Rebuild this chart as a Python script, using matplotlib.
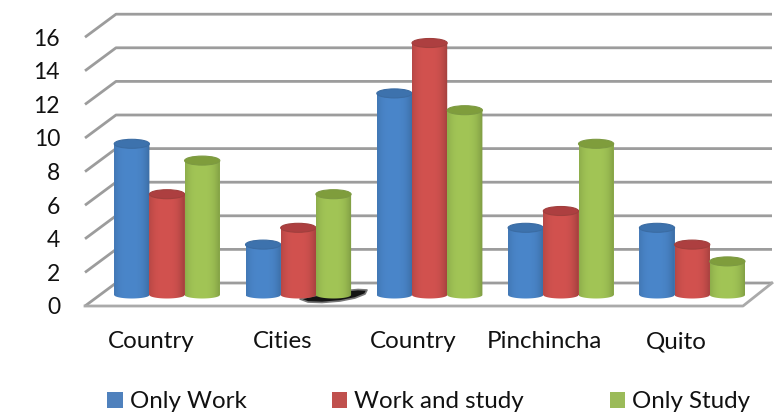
import numpy as np
import matplotlib
matplotlib.use("Agg")
import matplotlib.pyplot as plt
from matplotlib.patches import Ellipse, Polygon, Patch

categories = ["Country", "Cities", "Country", "Pinchincha", "Quito"]
only_work = [9, 3, 12, 4, 4]
work_and_study = [6, 4, 15, 5, 3]
only_study = [8, 6, 11, 9, 2]
y_ticks = [0, 2, 4, 6, 8, 10, 12, 14, 16]

W, H = 782, 412
plt.rcParams["font.family"] = ["Lato", "DejaVu Sans"]
fig = plt.figure(figsize=(W / 100, H / 100), dpi=100)
L, R, T, B = 85, 772, 14, 306
ax = fig.add_axes([L / W, 1 - B / H, (R - L) / W, (B - T) / H])
ax.set_facecolor("none")
UX, UY = 131.3, 16.8          # pixels per category / per value
X0, Y0 = 167, 295             # pixel of first group centre / of value 0 in the bar plane
ax.set_xlim((L - X0) / UX, (R - X0) / UX)
ax.set_ylim((Y0 - B) / UY, (Y0 - T) / UY)
for s in ax.spines.values():
    s.set_visible(False)

px = lambda x: (x - X0) / UX
py = lambda y: (Y0 - y) / UY
front = py(306)               # front plane offset in value units
back = py(283)                # back plane offset in value units
GRID = "#9c9c9c"

# walls / floor lines
for v in y_ticks:
    xs = [px(85), px(116), px(772)]
    ys = [front + v, back + v, back + v]
    ax.plot(xs, ys, color=GRID, lw=2.0, solid_capstyle="butt", zorder=1, clip_on=False)
ax.plot([px(85), px(743), px(772)], [front, front, back], color="#aaaaaa", lw=2.0, zorder=1, clip_on=False)

# shadow under the Cities group
sx = np.array([300, 310, 325, 342, 358, 367, 365, 355, 340, 322, 308])
sy = np.array([299, 296.5, 294, 291, 289.5, 290, 294, 298, 301, 302.5, 302])
ax.add_patch(Polygon(np.c_[px(sx), py(sy)], closed=True, fc="#141414", ec="#777777", lw=1.2,
                     joinstyle="round", zorder=2))

series = [
    ("Only Work", only_work, "#4F81BD", "#4a86ca", "#3b6ca3", "#3d72ad"),
    ("Work and study", work_and_study, "#C0504D", "#d2524f", "#a03f3d", "#ad3f40"),
    ("Only Study", only_study, "#9BBB59", "#a2c556", "#7d9a42", "#7f9d3c"),
]
bw = 35.2 / UX
rx = bw / 2
top_h = 9 / UY
bot_h = 7 / UY
for k, (name, vals, base, mid, edge, top) in enumerate(series):
    xs = np.arange(len(categories)) + (k - 1) * bw
    bars = ax.bar(xs, vals, width=bw, color=base, linewidth=0, zorder=3 + k, label=name)
    c_mid = np.array(matplotlib.colors.to_rgb(mid))
    c_edge = np.array(matplotlib.colors.to_rgb(edge))
    t = np.linspace(-1, 1, 48)
    w = np.clip(np.abs((t + 0.1) / 1.1), 0, 1) ** 3
    grad = (c_mid[None, :] * (1 - w[:, None]) + c_edge[None, :] * w[:, None])[None, :, :]
    for x, v, b in zip(xs, vals, bars):
        a = np.linspace(np.pi, 2 * np.pi, 30)
        body = np.r_[np.c_[x + rx * np.cos(a), bot_h / 2 * np.sin(a)], [[x + rx, v], [x - rx, v]]]
        clip = Polygon(body, closed=True, transform=ax.transData)
        im = ax.imshow(grad, extent=(x - rx, x + rx, -1, v), aspect="auto", zorder=3 + k,
                       interpolation="bilinear")
        im.set_clip_path(clip)
        ax.add_patch(Ellipse((x, v), bw, top_h, fc=top, ec=edge, lw=0.8, zorder=3 + k))
ax.set_xlim((L - X0) / UX, (R - X0) / UX)
ax.set_ylim((Y0 - B) / UY, (Y0 - T) / UY)

fs = 17.4
ax.set_yticks([v + front for v in y_ticks], [str(v) for v in y_ticks])
ax.set_xticks(np.arange(len(categories)) + px(151), categories)
ax.tick_params(axis="both", length=0, labelcolor="#111111")
ax.tick_params(axis="y", pad=18, labelsize=16.5)
ax.tick_params(axis="x", pad=18, labelsize=fs)

fpx = fs * 100 / 72
handles = [Patch(fc=s[2], ec="none", label=s[0]) for s in series]
fig.legend(handles=handles, loc="lower left", bbox_to_anchor=(107 / W, 0), ncol=3,
           frameon=False, fontsize=fs, labelcolor="#111111", borderpad=0, borderaxespad=0,
           handlelength=15.5 / fpx, handleheight=15.5 / fpx, handletextpad=7 / fpx,
           columnspacing=85.5 / fpx)
fig.savefig("out.png", dpi=100)
